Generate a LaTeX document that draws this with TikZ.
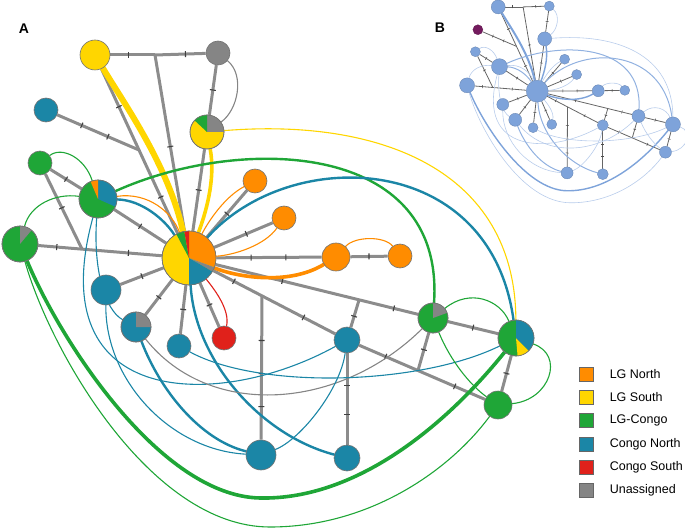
\documentclass[tikz,border=0pt]{standalone}
\usepackage{fontspec}
\setsansfont{Liberation Sans}
\usetikzlibrary{calc,backgrounds,decorations.markings,positioning}

\definecolor{lgnorth}{HTML}{FF8C00}
\definecolor{lgsouth}{HTML}{FFD600}
\definecolor{lgcongo}{HTML}{1FA637}
\definecolor{cgnorth}{HTML}{1B86A6}
\definecolor{cgsouth}{HTML}{E0211B}
\definecolor{unassig}{HTML}{858585}
\definecolor{treegray}{HTML}{8C8C8C}
\definecolor{bblue}{HTML}{7EA3DA}
\definecolor{bpurple}{HTML}{741B5E}

% edges and links of the haplotype network, #1 = prefix of the node names
\newcommand\netlinks[1]{%
  \coordinate (#1j1) at (155,55);
  \coordinate (#1j2) at ($(#1y1)!.468!(#1hub)$);
  \coordinate (#1j3) at ($(#1m2)!.367!(#1hub)$);
  \coordinate (#1j4) at ($(#1hub)!.462!(#1t5)$);
  \coordinate (#1j5) at ($(#1hub)!.697!(#1m3)$);
  \coordinate (#1j6) at ($(#1t5)!.47!(#1g3)$);
  % tree with mutation ticks
  \draw[tree,tk=.4] (#1y1) -- (#1j1);
  \draw[tree,tk=.6] (#1j1) -- (#1g1);
  \draw[tree,tk=.52] (#1j1) -- (#1hub);
  \draw[tree,tk=.23,tk=.78] (#1y1) -- (#1hub);
  \draw[tree,tk=.3,tk=.62] (#1t1) -- (#1j2);
  \draw[tree,tk=.5] (#1g1) -- (#1y2);
  \draw[tree,tk=.5] (#1y2) -- (#1hub);
  \draw[tree,tk=.5] (#1g2) -- (#1m1);
  \draw[tree,tk=.45] (#1g2) -- (#1j3);
  \draw[tree,tk=.15,tk=.73] (#1m2) -- (#1hub);
  \draw[tree,tk=.5] (#1m1) -- (#1hub);
  \draw[tree,tk=.5] (#1o1) -- (#1hub);
  \draw[tree,tk=.45] (#1o2) -- (#1hub);
  \draw[tree,tk=.34,tk=.67] (#1o3) -- (#1hub);
  \draw[tree,tk=.5] (#1o3) -- (#1o4);
  \draw[tree,tk=.5] (#1t2) -- (#1hub);
  \draw[tree,tk=.5] (#1t3) -- (#1hub);
  \draw[tree,tk=.5] (#1t4) -- (#1hub);
  \draw[tree,tk=.5] (#1r1) -- (#1hub);
  \draw[tree,tk=.17,tk=.74] (#1hub) -- (#1t5);
  \draw[tree,tk=.31,tk=.54,tk=.77] (#1j4) -- (#1t6);
  \draw[tree,tk=.33,tk=.88] (#1hub) -- (#1m3);
  \draw[tree,tk=.6] (#1j5) -- (#1t5);
  \draw[tree,tk=.5] (#1m3) -- (#1m4);
  \draw[tree,tk=.21,tk=.76] (#1t5) -- (#1g3);
  \draw[tree,tk=.45] (#1m3) -- (#1j6);
  \draw[tree,tk=.35,tk=.67] (#1t5) -- (#1t7);
  \draw[tree,tk=.5] (#1m4) -- (#1g3);
  % shared links
  \draw[ln,cS,w4] (#1y1) .. controls (125,105) and (168,165) .. (#1hub);
  \draw[ln,cS,w3] (#1y2) .. controls (216,180) and (205,215) .. (#1hub);
  \draw[ln,cS,w1] (#1y2) .. controls (380,118) and (515,170) .. (#1m4);
  \draw[ln,cU,w1] (#1g1) .. controls (245,75) and (238,110) .. (#1y2);
  \draw[ln,cC,w1] (#1g2) .. controls (62,146) and (85,158) .. (#1m1);
  \draw[ln,cC,w1] (#1m2) .. controls (30,205) and (55,193) .. (#1m1);
  \draw[ln,cC,w2] (#1m1) .. controls (240,135) and (445,140) .. (#1m3);
  \draw[ln,cT,w2] (#1hub) .. controls (290,145) and (490,150) .. (#1m4);
  \draw[ln,cN,w1] (#1m1) .. controls (148,192) and (172,212) .. (#1hub);
  \draw[ln,cT,w2] (#1m1) .. controls (142,200) and (165,220) .. (#1hub);
  \draw[ln,cN,w1] (#1o1) .. controls (228,195) and (212,215) .. (#1hub);
  \draw[ln,cN,w1] (#1o2) .. controls (265,245) and (235,255) .. (#1hub);
  \draw[ln,cN,w3] (#1o3) .. controls (290,285) and (240,278) .. (#1hub);
  \draw[ln,cN,w1] (#1o3) .. controls (355,236) and (385,236) .. (#1o4);
  \draw[ln,cR,w1] (#1r1) .. controls (230,310) and (215,290) .. (#1hub);
  \draw[ln,cT,w2] (#1hub) .. controls (195,360) and (260,435) .. (#1t7);
  \draw[ln,cT,w1] (#1m1) .. controls (40,410) and (220,410) .. (#1t5);
  \draw[ln,cT,w1] (#1m1) .. controls (93,270) and (105,310) .. (#1t3);
  \draw[ln,cT,w1] (#1t2) .. controls (105,380) and (170,450) .. (#1t6);
  \draw[ln,cT,w2] (#1t3) .. controls (160,390) and (200,440) .. (#1t6);
  \draw[ln,cU,w1] (#1t3) .. controls (210,420) and (340,410) .. (#1m3);
  \draw[ln,cT,w1] (#1t4) .. controls (260,390) and (420,385) .. (#1m4);
  \draw[ln,cT,w1] (#1t6) .. controls (300,440) and (340,390) .. (#1t5);
  \draw[ln,cC,w3] (#1m2) .. controls (60,340) and (160,496) .. (260,498) .. controls (360,500) and (450,420) .. (#1m4);
  \draw[ln,cC,w1] (#1m2) .. controls (50,350) and (150,527) .. (270,527) .. controls (370,527) and (450,470) .. (#1g3);
  \draw[ln,cC,w1] (#1m3) .. controls (470,288) and (500,300) .. (#1m4);
  \draw[ln,cC,w1] (#1m3) .. controls (450,360) and (470,385) .. (#1g3);
  \draw[ln,cC,w1] (#1m4) .. controls (565,355) and (550,400) .. (#1g3);
}

\begin{document}
\begin{tikzpicture}[x=1pt,y=-1pt,font=\sffamily,
  tree/.style={draw=treegray,line width=3pt},
  tk/.style={postaction={decorate,decoration={markings,mark=at position #1 with {\draw[black!75,line width=1.1pt] (0,-3pt) -- (0,3pt);}}}},
  ln/.style={line cap=round},
  cN/.style={draw=lgnorth}, cS/.style={draw=lgsouth}, cC/.style={draw=lgcongo},
  cT/.style={draw=cgnorth}, cR/.style={draw=cgsouth}, cU/.style={draw=unassig},
  w1/.style={line width=1.1pt}, w2/.style={line width=2.4pt},
  w3/.style={line width=3.6pt}, w4/.style={line width=6pt},
  pienode/.style={circle,draw=black!55,line width=.6pt,inner sep=0pt},
  nodeline/.style={draw=black!55,line width=.6pt},
  legbox/.style={draw=black!60,line width=.5pt,minimum size=14pt,inner sep=0pt}]
\useasboundingbox (0,0) rectangle (685,529);

% Panel A
\node[font=\sffamily\bfseries\fontsize{14}{16}\selectfont] (labA) at (24,29) {A};
\foreach \n/\x/\y/\r/\c in {hub/189/258/27/lgsouth, y1/95/55/15/lgsouth, g1/218/53/12/unassig,
  y2/207/132/17/lgsouth, t1/46/110/12/cgnorth, g2/40/163/12/lgcongo, m1/98/199/19/lgcongo,
  m2/20/244/18/lgcongo, o1/255/181/12/lgnorth, o2/284/218/12/lgnorth, o3/336/257/14/lgnorth,
  o4/400/256/12/lgnorth, t2/106/290/15/cgnorth, t3/136/327/15/cgnorth, t4/179/346/12/cgnorth,
  r1/224/338/12/cgsouth, m3/433/318/15/lgcongo, t5/347/340/13/cgnorth, m4/516/338/18/lgcongo,
  g3/498/405/14/lgcongo, t6/261/455/15/cgnorth, t7/347/458/13/cgnorth}
  \node[pienode,fill=\c,minimum size=2*\r] (a\n) at (\x,\y) {};
% pie slices (angles counterclockwise from east)
\foreach \n/\r/\a/\b/\c in {hub/27/340/450/lgnorth, hub/27/330/340/unassig, hub/27/270/330/cgnorth,
  hub/27/100/118/lgcongo, hub/27/90/100/cgsouth, y2/17/0/90/unassig, y2/17/90/137/lgcongo,
  m1/19/336/450/cgnorth, m1/19/90/113/lgnorth, m2/18/50/90/unassig, t3/15/0/90/unassig,
  m3/15/20/90/unassig, m4/18/275/315/lgsouth, m4/18/315/450/cgnorth}
  \fill[\c] (a\n.center) -- ++(-\a:\r) arc[start angle=-\a,end angle=-\b,radius=\r] -- cycle;
\foreach \n/\r in {hub/27, y2/17, m1/19, m2/18, t3/15, m3/15, m4/18}
  \draw[nodeline] (a\n.center) circle[radius=\r];
\begin{pgfonlayer}{background}
  \netlinks{a}
\end{pgfonlayer}

% Panel B: same network, one colour
\node[font=\sffamily\bfseries\fontsize{14}{16}\selectfont] (labB) at (440,28) {B};
\begin{scope}[shift={(458.8,-15.9)},scale=.415,
  tree/.style={draw=black!60,line width=.8pt},
  tk/.style={postaction={decorate,decoration={markings,mark=at position #1 with {\draw[black!70,line width=.5pt] (0,-1.5pt) -- (0,1.5pt);}}}},
  cN/.style={}, cS/.style={}, cC/.style={}, cT/.style={}, cR/.style={}, cU/.style={},
  w1/.style={line width=.6pt,draw=bblue!55}, w2/.style={line width=1pt,draw=bblue!85},
  w3/.style={line width=1.4pt,draw=bblue}, w4/.style={line width=2pt,draw=bblue}]
\foreach \n/\x/\y/\r in {hub/189/258/11, y1/95/55/7, g1/218/53/5, y2/207/132/7, g2/40/163/5,
  m1/98/199/8, m2/20/244/7.5, o1/255/181/5, o2/284/218/5, o3/336/257/6, o4/400/256/5,
  t2/106/290/6, t3/136/327/6.5, t4/179/346/5, r1/224/338/5, m3/433/318/6.5, t5/347/340/5.5,
  m4/516/338/7.5, g3/498/405/6, t6/261/455/6, t7/347/458/5.5}
  \node[pienode,fill=bblue,draw=bblue!80!black,line width=.3pt,minimum size=2*\r] (b\n) at (\x,\y) {};
\node[pienode,fill=bpurple,draw=bpurple!80!black,line width=.3pt,minimum size=10] (bt1) at (46,110) {};
\begin{pgfonlayer}{background}
  \netlinks{b}
\end{pgfonlayer}
\end{scope}

% legend
\foreach \c/\t [count=\i] in {lgnorth/LG North, lgsouth/LG South, lgcongo/LG-Congo,
  cgnorth/Congo North, cgsouth/Congo South, unassig/Unassigned} {
  \node[legbox,fill=\c] (key\i) at (586,{351+23.2*\i}) {};
  \node[right=13pt of key\i,font=\sffamily\fontsize{12.5}{14}\selectfont] (keytxt\i) {\t};
}
\end{tikzpicture}
\end{document}
